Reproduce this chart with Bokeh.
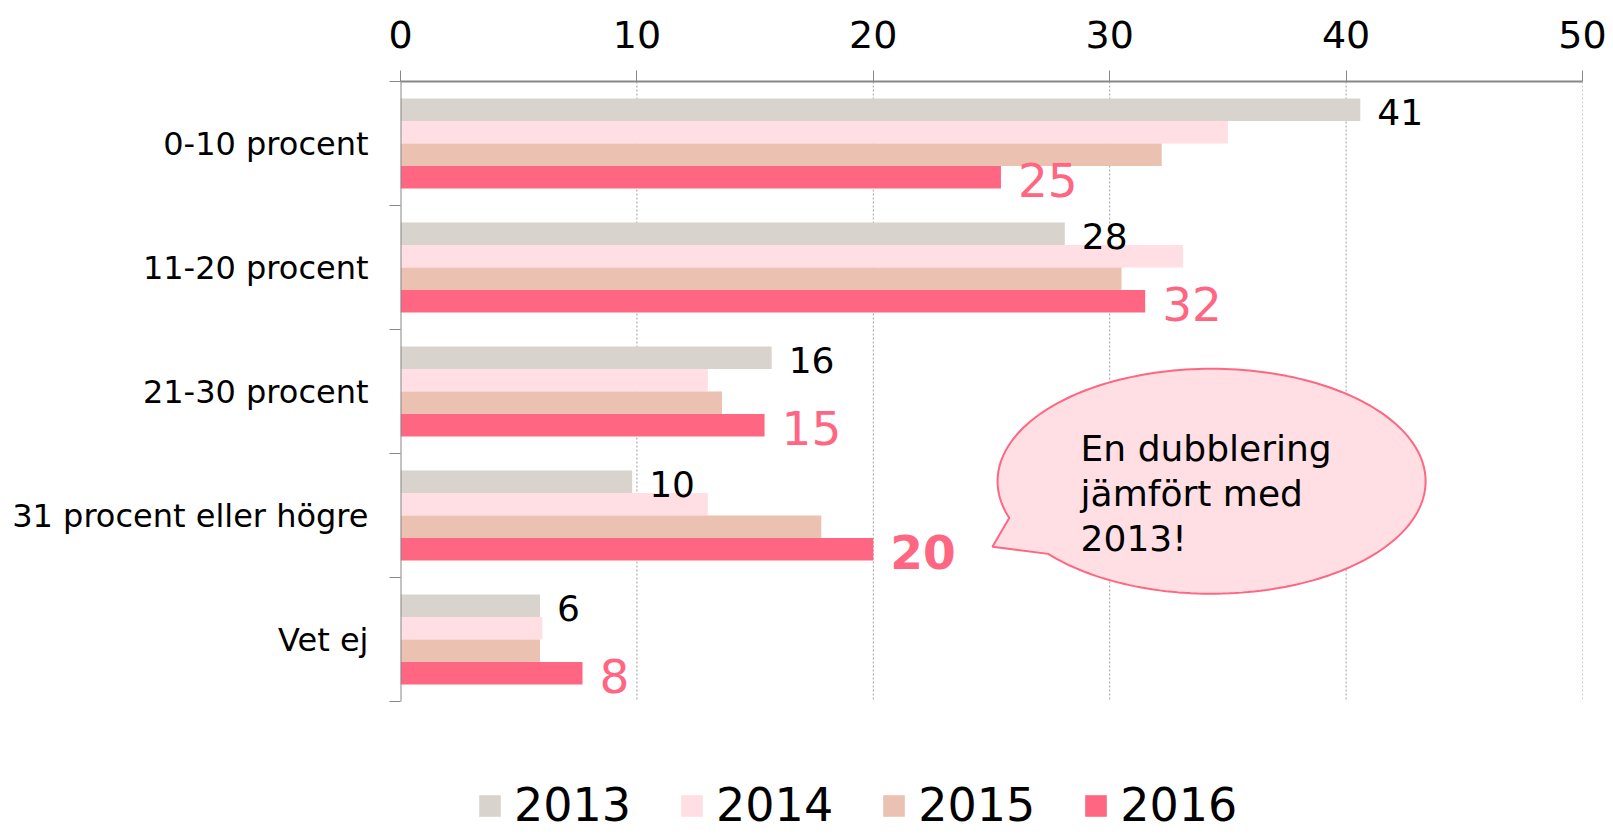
import numpy as np
from bokeh.plotting import figure
from bokeh.models import (Range1d, FixedTicker, Legend, LegendItem,
                          ColumnDataSource)
from bokeh.core.properties import value, field
from bokeh.embed import file_html
from bokeh.resources import INLINE

# ---------------- data ----------------
categories = ["0-10 procent", "11-20 procent", "21-30 procent",
              "31 procent eller högre", "Vet ej"]
years = ["2013", "2014", "2015", "2016"]
v2013 = [40.6, 28.1, 15.7, 9.8, 5.9]
v2014 = [35.0, 33.1, 13.0, 13.0, 6.0]
v2015 = [32.2, 30.5, 13.6, 17.8, 5.9]
v2016 = [25.4, 31.5, 15.4, 20.0, 7.7]
labels2013 = ["41", "28", "16", "10", "6"]
labels2016 = ["25", "32", "15", "20", "8"]
labels2016_style = ["normal", "normal", "normal", "bold", "normal"]
x_ticks = [0, 10, 20, 30, 40, 50]
callout_lines = ["En dubblering", "jämfört med", "2013!"]

# ---------------- styles ----------------
colors = ["#D8D3CC", "#FFDFE4", "#EBC2B2", "#FF6681"]
FONT = "DejaVu Sans"
AXIS_GREY = "#878787"

n_cat = len(categories)
W, H = 1613, 835
TOP, BAND = 81, 124          # frame top (px) and category band height (px)
y_bottom = -0.5 + (H - TOP) / BAND   # frame runs to the canvas bottom (legend lives there)
p = figure(width=W, height=H, x_range=Range1d(0, 50), y_range=Range1d(y_bottom, -0.5),
           x_axis_location="above", output_backend="svg", toolbar_location=None,
           min_border_left=400, min_border_right=31, min_border_top=TOP,
           min_border_bottom=0)
p.outline_line_color = None
p.background_fill_color = "white"
p.border_fill_color = "white"

idx = np.arange(n_cat)
y_lo, y_hi = -0.5, n_cat - 0.5

# ---------------- grid (dotted, limited to the category area) ----------------
gx = x_ticks[1:]
p.segment(x0=gx, y0=[y_lo] * len(gx), x1=gx, y1=[y_hi] * len(gx),
          line_color="#A0A0A0", line_dash="2 2", line_width=1)
p.xgrid.visible = False
p.ygrid.visible = False

# ---------------- bars ----------------
bar_h = 0.1815
offsets = [-1.5 * bar_h, -0.5 * bar_h, 0.5 * bar_h, 1.5 * bar_h]
series = [v2013, v2014, v2015, v2016]
renderers = []
for vals, col, off in zip(series, colors, offsets):
    src = ColumnDataSource(dict(y=idx + off, right=vals))
    r = p.hbar(y="y", left=0, right="right", height=bar_h, source=src,
               fill_color=col, line_color=None)
    renderers.append(r)

# left axis line (only over the category area)
p.segment(x0=[0], y0=[y_lo], x1=[0], y1=[y_hi], line_color=AXIS_GREY, line_width=2)

# ---------------- value labels ----------------
src13 = ColumnDataSource(dict(x=v2013, y=idx + offsets[0], t=labels2013))
p.text(x="x", y="y", text="t", source=src13, x_offset=17, y_offset=2,
       text_baseline="middle", text_align="left", text_color="black",
       text_font=value(FONT), text_font_size="36px")
src16 = ColumnDataSource(dict(x=v2016, y=idx + offsets[3], t=labels2016,
                              st=labels2016_style))
p.text(x="x", y="y", text="t", source=src16, x_offset=17, y_offset=3,
       text_baseline="middle", text_align="left", text_color="#FF6681",
       text_font=value(FONT), text_font_size="47px",
       text_font_style=field("st"))

# ---------------- axes ----------------
xa = p.xaxis[0]
xa.ticker = FixedTicker(ticks=x_ticks)
xa.axis_line_color = AXIS_GREY
xa.axis_line_width = 2
xa.major_tick_line_color = AXIS_GREY
xa.major_tick_out = 11
xa.major_tick_in = 0
xa.minor_tick_out = 0
xa.minor_tick_in = 0
xa.major_label_standoff = 23
xa.major_label_text_font = FONT
xa.major_label_text_font_size = "38px"
xa.major_label_text_color = "black"

ya = p.yaxis[0]
ya.ticker = FixedTicker(ticks=list(idx), minor_ticks=list(np.arange(n_cat + 1) - 0.5))
ya.major_label_overrides = {int(i): c for i, c in zip(idx, categories)}
ya.axis_line_color = None
ya.major_tick_out = 0
ya.major_tick_in = 0
ya.minor_tick_out = 11
ya.minor_tick_in = 0
ya.minor_tick_line_color = AXIS_GREY
ya.major_label_standoff = 21
ya.major_label_text_font = FONT
ya.major_label_text_font_size = "32px"
ya.major_label_text_color = "black"

# ---------------- callout bubble ----------------
cx, cy, rx, ry = 34.31, 2.724, 9.053, 0.907
t = np.radians(np.linspace(161, 139.8 + 360, 200))
bx = list(cx + rx * np.cos(t)) + [25.04]
by = list(cy + ry * np.sin(t)) + [3.252]
p.patch(bx, by, fill_color="#FFDFE4", line_color="#FF6681", line_width=2)
n = len(callout_lines)
p.text(x=[28.77] * n, y=[2.462, 2.825, 3.188], text=callout_lines,
       text_baseline="alphabetic", text_align="left", text_color="black",
       text_font=value(FONT), text_font_size="36px")

# ---------------- legend ----------------
legend = Legend(items=[LegendItem(label=y, renderers=[r]) for y, r in zip(years, renderers)],
                orientation="horizontal", location=(76, 3),
                glyph_width=27, glyph_height=27, label_standoff=11, spacing=47,
                padding=0, margin=0, border_line_color=None,
                background_fill_alpha=0, label_text_font=FONT,
                label_text_font_size="46px", label_text_color="black",
                label_height=27)
p.add_layout(legend, "center")

open("out.html", "w").write(file_html(p, INLINE))
